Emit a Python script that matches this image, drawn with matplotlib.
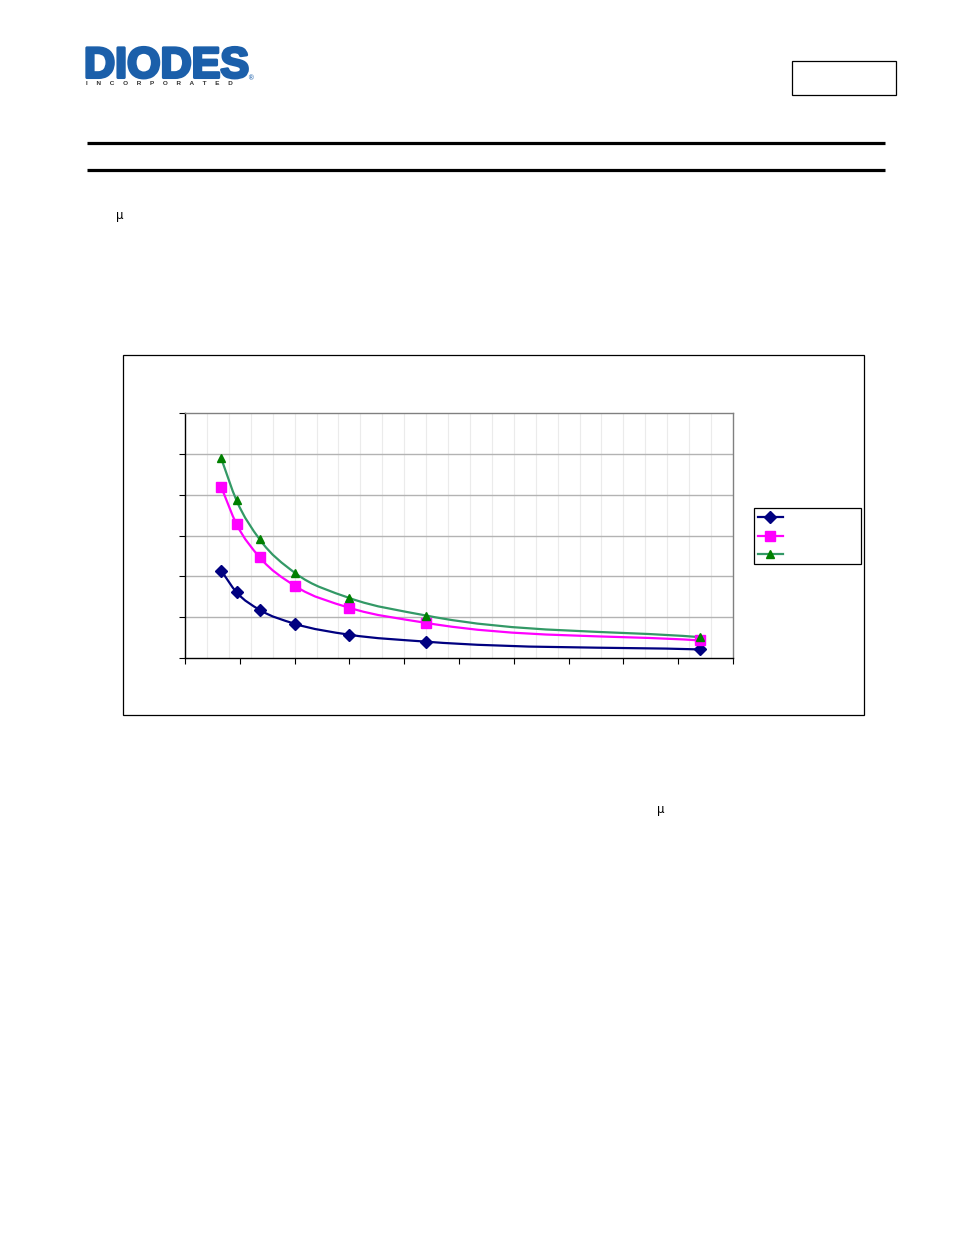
import matplotlib
matplotlib.use("Agg")
import matplotlib.pyplot as plt
import matplotlib.patheffects as pe
from matplotlib.path import Path
from matplotlib.patches import PathPatch, Rectangle
from matplotlib.lines import Line2D
import numpy as np

# ---- data ----
x_vals = [3.3, 4.7, 6.8, 10, 15, 22, 47]
series1 = [2.14, 1.61, 1.18, 0.84, 0.57, 0.40, 0.21]
series2 = [4.19, 3.28, 2.47, 1.77, 1.23, 0.86, 0.43]
series3 = [4.89, 3.86, 2.91, 2.09, 1.47, 1.04, 0.51]
all_series = [series1, series2, series3]
colors = ["#000080", "#FF00FF", "#339966"]
marker_face = ["#000080", "#FF00FF", "#008000"]
markers = ["D", "s", "^"]
msizes = [6.5, 7, 6]
x_major = np.arange(0, 51, 5)
x_minor_grid = np.arange(2, 50, 2)
y_major = np.arange(0, 7, 1)
logo_sub = "     ".join("INCORPORATED")

W, H = 954, 1235
fig = plt.figure(figsize=(W / 100, H / 100), dpi=100)

# background page axes in pixel coordinates
bg = fig.add_axes([0, 0, 1, 1], zorder=0)
bg.set_xlim(0, W)
bg.set_ylim(H, 0)
bg.axis("off")

# logo
logo_blue = "#1B5FAA"
bg.text(84, 77.5, "DIODES", fontfamily="Liberation Sans", fontweight="bold",
        fontsize=31, color=logo_blue, ha="left", va="baseline",
        path_effects=[pe.withStroke(linewidth=2.2, foreground=logo_blue)])
bg.plot([86, 238], [61.5, 61.5], color="white", lw=1.5, solid_capstyle="butt")
bg.text(86, 83.5, logo_sub, fontfamily="Liberation Sans", fontweight="bold",
        fontsize=4.6, color="#333333", ha="left", va="center")
bg.text(247.5, 78.5, "®", fontsize=4.8, color=logo_blue, ha="left", va="center")

# top-right box
bg.add_patch(Rectangle((792, 61), 104, 34, fill=False, ec="black", lw=0.9))

# horizontal rules
bg.plot([87, 885], [142.5, 142.5], color="black", lw=2.3, solid_capstyle="butt")
bg.plot([87, 885], [169.5, 169.5], color="black", lw=2.3, solid_capstyle="butt")

# stray mu characters
bg.text(116, 215, "μ", fontsize=8.5, ha="left", va="center", color="black")
bg.text(657, 810, "μ", fontsize=8.5, ha="left", va="center", color="black")

# chart frame
bg.add_patch(Rectangle((123, 355), 741, 360, fill=False, ec="black", lw=0.9))

# ---- chart axes ----
L, R, T, B = 185, 733, 413, 658
ax = fig.add_axes([L / W, 1 - B / H, (R - L) / W, (B - T) / H], zorder=2)
ax.patch.set_alpha(0)
ax.set_xlim(0, 50)
ax.set_ylim(0, 6)

for xv in x_minor_grid:
    ax.axvline(xv, color="#ebebeb", lw=0.8, zorder=0)
for yv in y_major[1:-1]:
    ax.axhline(yv, color="#b3b3b3", lw=1.0, zorder=0.5)

ax.set_xticks(x_major)
ax.set_yticks(y_major)
ax.set_xticklabels([])
ax.set_yticklabels([])
ax.tick_params(direction="out", length=4, width=0.8, color="black")
ax.spines["left"].set_color("black")
ax.spines["bottom"].set_color("black")
ax.spines["top"].set_color("#808080")
ax.spines["right"].set_color("#808080")
for s in ax.spines.values():
    s.set_linewidth(1.0)


def smooth_path(xs, ys):
    xs = np.asarray(xs, float)
    ys = np.asarray(ys, float)
    n = len(xs)
    h = np.diff(xs)
    d = np.diff(ys) / h
    m = np.empty(n)
    m[0] = d[0]
    m[-1] = d[-1]
    for i in range(1, n - 1):
        m[i] = (d[i - 1] * h[i] + d[i] * h[i - 1]) / (h[i - 1] + h[i])
    verts = [(xs[0], ys[0])]
    codes = [Path.MOVETO]
    for i in range(n - 1):
        c1 = (xs[i] + h[i] / 3, ys[i] + m[i] * h[i] / 3)
        c2 = (xs[i + 1] - h[i] / 3, ys[i + 1] - m[i + 1] * h[i] / 3)
        verts += [c1, c2, (xs[i + 1], ys[i + 1])]
        codes += [Path.CURVE4] * 3
    return Path(verts, codes)


for ys, c, mf, m, ms in zip(all_series, colors, marker_face, markers, msizes):
    ax.add_patch(PathPatch(smooth_path(x_vals, ys), fill=False, ec=c, lw=1.6,
                           zorder=3))
    ax.plot(x_vals, ys, ls="none", marker=m, ms=ms, mfc=mf, mec=mf, zorder=4,
            clip_on=False)

# legend (drawn manually)
bg.add_patch(Rectangle((754.5, 507.5), 107, 56, fill=False, ec="black", lw=0.9,
                       zorder=5))
for k, (c, mf, m, ms) in enumerate(zip(colors, marker_face, markers, msizes)):
    yy = 517 + k * 18.5
    bg.add_line(Line2D([758, 783], [yy, yy], color=c, lw=1.6, zorder=6))
    bg.add_line(Line2D([770.5], [yy], ls="none", marker=m, ms=ms, mfc=mf,
                       mec=mf, zorder=7))

fig.savefig("out.png", dpi=100)
